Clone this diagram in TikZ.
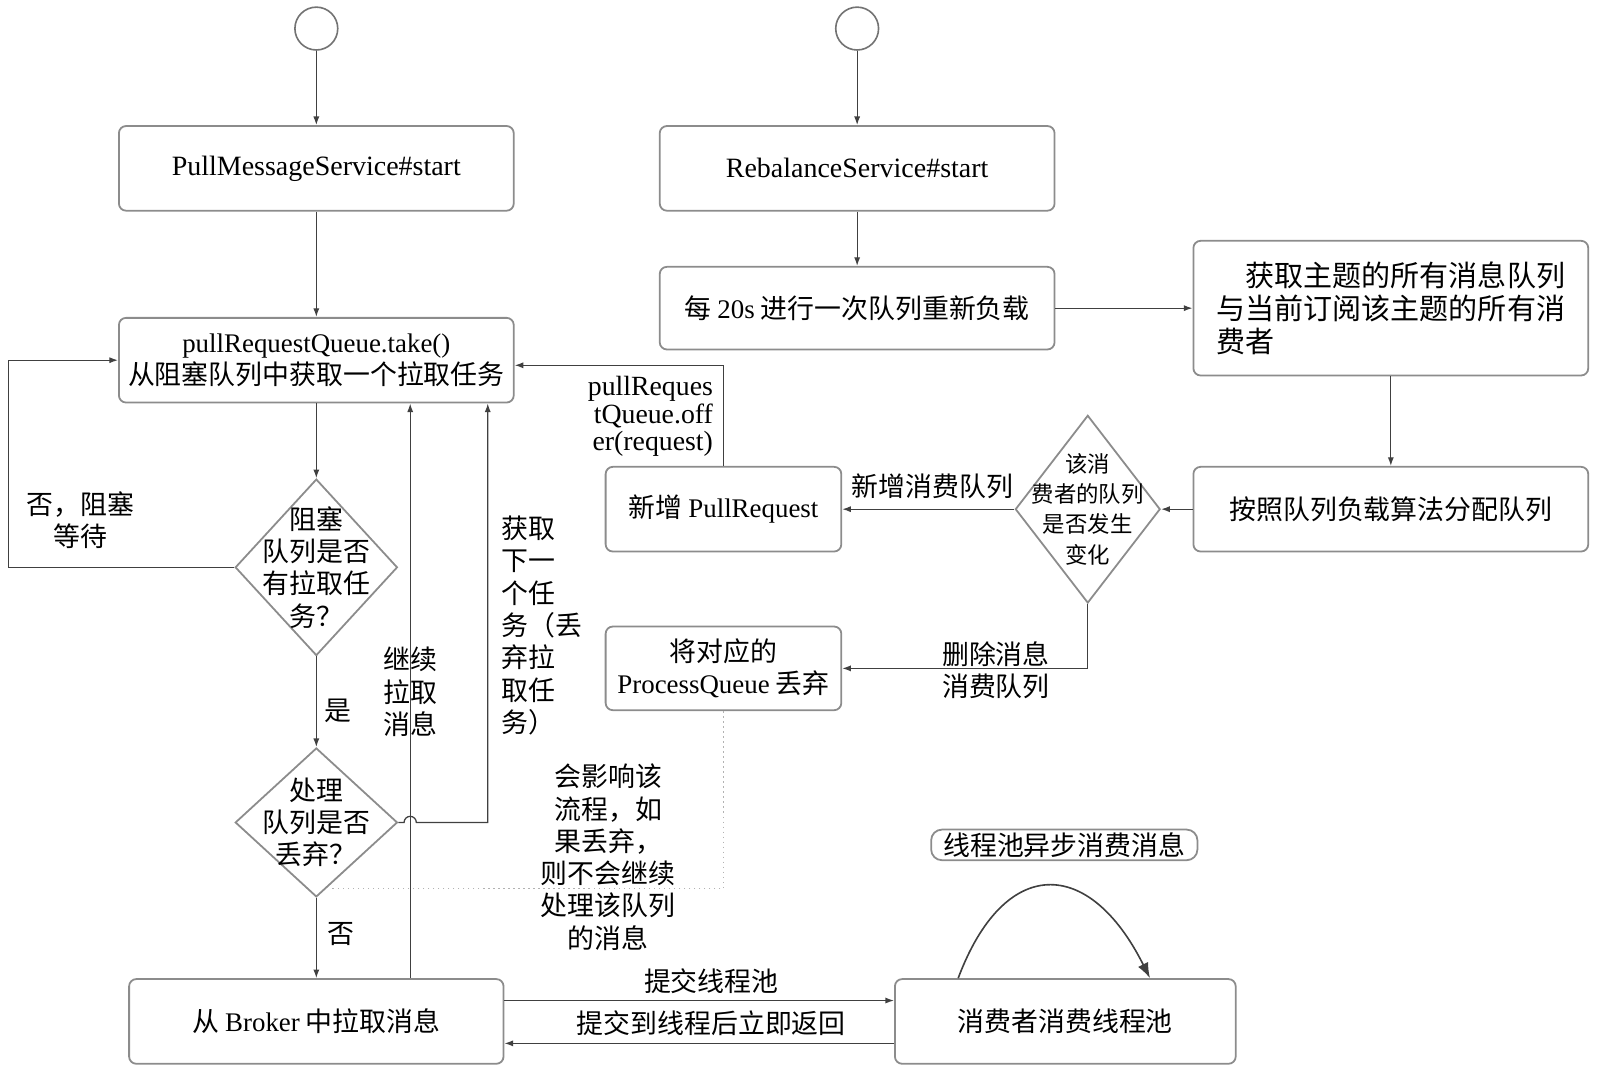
\documentclass[tikz,border=0pt]{standalone}
\usepackage{fontspec}
\setmainfont{Liberation Serif}
\newfontfamily\cjk{Noto Sans CJK SC}
\newcommand\entxt[1]{{\rmfamily #1}}
\usetikzlibrary{shapes.geometric,arrows.meta}

\begin{document}
\begin{tikzpicture}[x=0.02cm,y=-0.02cm,
    font=\fontsize{15}{18}\selectfont\cjk,
    box/.style={draw=black!45,line width=1pt,rounded corners=4pt,align=center},
    cond/.style={diamond,draw=black!45,line width=1pt,align=center,inner sep=-1.2cm},
    startpt/.style={circle,draw=black!55,line width=0.9pt,minimum size=0.84cm,inner sep=0pt},
    arr/.style={draw=black!75,line width=0.7pt,-{Latex[length=1.7mm,width=1.2mm]}},
    lbl/.style={inner sep=0pt,align=center},
    note/.style={draw=black!30,line width=0.8pt,dotted}]
\useasboundingbox (0,0) rectangle (1568,1050);

% start points
\node[startpt] (s1) at (310,28) {};
\node[startpt] (s2) at (840,28) {};

% pull side
\node[box,minimum width=7.74cm,minimum height=1.66cm,font=\fontsize{15.6}{18}\selectfont] (pms) at (310,165) {PullMessageService\#start};
\node[box,minimum width=7.74cm,minimum height=1.66cm] (take) at (310,353) {\entxt{pullRequestQueue.take()}\\从阻塞队列中获取一个拉取任务};
\node[cond,minimum width=3.18cm,minimum height=3.46cm] (hastask) at (310,556) {阻塞\\队列是否\\有拉取任\\务？};
\node[cond,minimum width=3.18cm,minimum height=2.92cm] (dropped) at (310,806) {处理\\队列是否\\丢弃？};
\node[box,minimum width=7.34cm,minimum height=1.66cm] (pull) at (310,1001) {从 \entxt{Broker} 中拉取消息};
\node[box,minimum width=6.68cm,minimum height=1.66cm] (pool) at (1044,1001) {消费者消费线程池};
\node[box,rounded corners=6pt,minimum width=5.22cm,minimum height=0.6cm,inner sep=0pt] (async) at (1043,828) {线程池异步消费消息};

% rebalance side
\node[box,minimum width=7.74cm,minimum height=1.66cm,font=\fontsize{15.6}{18}\selectfont] (rbs) at (840,165) {RebalanceService\#start};
\node[box,minimum width=7.74cm,minimum height=1.62cm] (every) at (840,302) {每 \entxt{20s} 进行一次队列重新负载};
\node[box,minimum width=7.74cm,minimum height=2.64cm,align=left,font=\fontsize{16.2}{18.5}\selectfont\cjk] (fetch) at (1363,302) {\hspace*{1em}获取主题的所有消息队列\\与当前订阅该主题的所有消\\费者};
\node[box,minimum width=7.74cm,minimum height=1.66cm] (assign) at (1363,499) {按照队列负载算法分配队列};
\node[cond,minimum width=2.84cm,minimum height=3.68cm,font=\fontsize{12.5}{17}\selectfont\cjk] (changed) at (1066,499) {该消\\费者的队列\\是否发生\\变化};
\node[box,minimum width=4.62cm,minimum height=1.66cm] (newpr) at (709,499) {新增 \entxt{PullRequest}};
\node[box,minimum width=4.62cm,minimum height=1.64cm] (dropq) at (709,655) {将对应的\\\entxt{ProcessQueue} 丢弃};

% bends
\coordinate (lp) at (8,556);
\coordinate (c1) at (402,900);
\coordinate (hop) at (396,806);
\coordinate (c2) at (478,806);
\coordinate (dn) at (323,871);

% labels
\node[lbl] (nowait) at (79,510) {否，阻塞\\等待};
\node[lbl] (yes) at (331,697) {是};
\node[lbl] (no) at (334,915) {否};
\node[lbl] (cont) at (402,678) {继续\\拉取\\消息};
\node[lbl,anchor=west,align=left] (next) at (491,613) {获取\\下一\\个任\\务（丢\\弃拉\\取任\\务）};
\node[lbl,anchor=east,align=right,font=\fontsize{15.5}{15.6}\selectfont] (offer) at (699,408) {pullReques\\tQueue.off\\er(request)};
\node[lbl] (addq) at (914,477) {新增消费队列};
\node[lbl,align=left] (delq) at (976,657) {删除消息\\消费队列};
\node[lbl] (impact) at (596,840) {会影响该\\流程，如\\果丢弃，\\则不会继续\\处理该队列\\的消息};
\node[lbl] (submit) at (697,962) {提交线程池};
\node[lbl] (back) at (697,1003) {提交到线程后立即返回};

% connectors
\draw[arr] (s1) -- (pms);
\draw[arr] (pms) -- (take);
\draw[arr] (take) -- (hastask);
\draw[arr] (hastask.west) -- (lp) |- (take.west);
\draw[arr] (hastask) -- (dropped);
\draw[arr] (dropped) -- (pull);
\draw[arr] (pull.north -| c1) -- (take.south -| c1);
\draw[arr] (dropped.east) -- (hop) arc[start angle=180,end angle=0,radius=0.12cm] -- (c2) -- (take.south -| c2);
\draw[arr] (s2) -- (rbs);
\draw[arr] (rbs) -- (every);
\draw[arr] (every) -- (fetch);
\draw[arr] (fetch) -- (assign);
\draw[arr] (assign) -- (changed);
\draw[arr] (changed) -- (newpr);
\draw[arr] (changed.south) |- (dropq.east);
\draw[arr] (newpr.north) |- ([yshift=-0.1cm]take.east);
\draw[arr] ([yshift=0.41cm]pull.east) -- ([yshift=0.41cm]pool.west);
\draw[arr] ([yshift=-0.43cm]pool.west) -- ([yshift=-0.43cm]pull.east);
\draw[arr,line width=0.9pt,-{Latex[length=3mm,width=2.2mm]}] ([xshift=-2.1cm]pool.north) .. controls +(45,-120) and +(-60,-120) .. ([xshift=1.66cm]pool.north);
\draw[note] (dropq.south) |- (dn);
\end{tikzpicture}
\end{document}
